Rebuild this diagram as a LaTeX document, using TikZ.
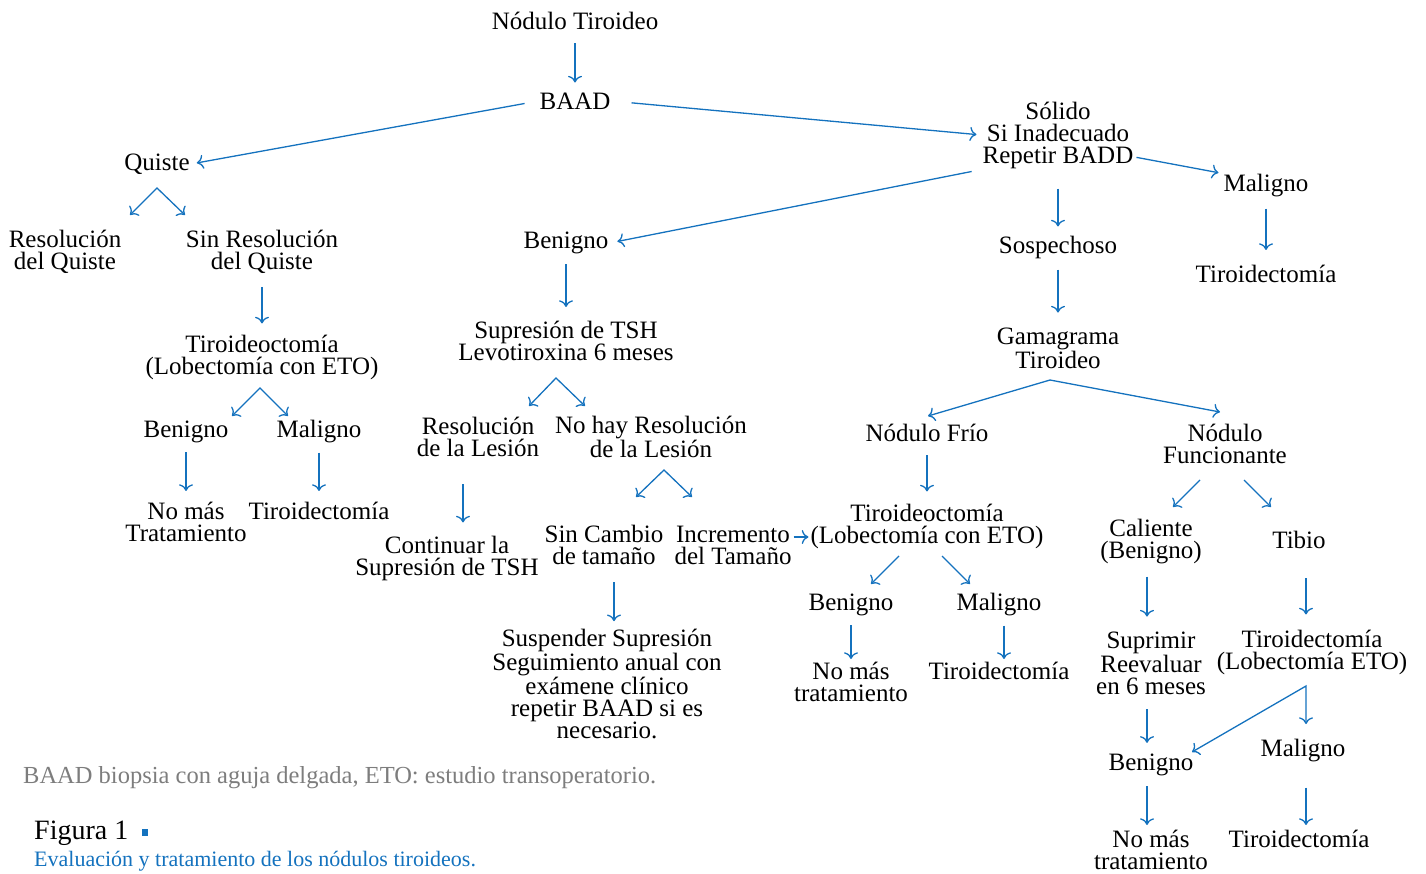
\documentclass[tikz,border=0pt]{standalone}
\usepackage{fontspec}
\setmainfont{Liberation Serif}
\usetikzlibrary{calc,arrows.meta}
\definecolor{azul}{RGB}{20,114,190}
\definecolor{gris}{RGB}{125,125,125}

\begin{document}
\begin{tikzpicture}[x=1pt,y=-1pt, >={To[scale=1.5]},
    every node/.style={align=center, inner sep=1pt, font=\fontsize{25}{22}\selectfont},
    flecha/.style={->, draw=azul, line width=1.3pt},
    rama/.style={<->, draw=azul, line width=1.3pt}]
    \useasboundingbox (0,0) rectangle (1426,873);

    % nodos
    \node (nodulo) at (575,21) {Nódulo Tiroideo};
    \node (baad) at (575,101) {BAAD};
    \node (solido) at (1058,135) {Sólido\\Si Inadecuado\\Repetir BADD};
    \node (quiste) at (157,164) {Quiste};
    \node (resquiste) at (65,252) {Resolución\\del Quiste};
    \node (sinres) at (262,252) {Sin Resolución\\del Quiste};
    \node (tiroq) at (262,357) {Tiroideoctomía\\(Lobectomía con ETO)};
    \node (benq) at (186,432) {Benigno};
    \node (malq) at (319,432) {Maligno};
    \node (nomasq) at (186,522) {No más\\Tratamiento};
    \node (tiroidq) at (319,511) {Tiroidectomía};
    \node (benb) at (566,243) {Benigno};
    \node (supresion) at (566,341) {Supresión de TSH\\Levotiroxina 6 meses};
    \node (reslesion) at (478,437) {Resolución\\de la Lesión};
    \node (nores) at (651,437) {No hay Resolución\\de la Lesión};
    \node (continuar) at (447,558) {Continuar la\\Supresión de TSH};
    \node (sincambio) at (604,545) {Sin Cambio\\de tamaño};
    \node (incremento) at (733,545) {Incremento\\del Tamaño};
    \node (suspender) at (607,684) {Suspender Supresión\\Seguimiento anual con\\exámene clínico\\repetir BAAD si es\\necesario.};
    \node (tiroi) at (927,526) {Tiroideoctomía\\(Lobectomía con ETO)};
    \node (beni) at (851,605) {Benigno};
    \node (mali) at (999,605) {Maligno};
    \node (nomasi) at (851,682) {No más\\tratamiento};
    \node (tiroidi) at (999,671) {Tiroidectomía};
    \node (malr) at (1266,186) {Maligno};
    \node (tiroidr) at (1266,274) {Tiroidectomía};
    \node (sospechoso) at (1058,247) {Sospechoso};
    \node (gamagrama) at (1058,348) {Gamagrama\\Tiroideo};
    \node (frio) at (927,433) {Nódulo Frío};
    \node (funcionante) at (1225,444) {Nódulo\\Funcionante};
    \node (caliente) at (1151,542) {Caliente\\(Benigno)};
    \node (tibio) at (1299,540) {Tibio};
    \node (suprimir) at (1151,663) {Suprimir\\Reevaluar\\en 6 meses};
    \node (tirof) at (1312,652) {Tiroidectomía\\(Lobectomía ETO)};
    \node (benf) at (1151,765) {Benigno};
    \node (malf) at (1303,751) {Maligno};
    \node (nomasf) at (1151,850) {No más\\tratamiento};
    \node (tiroidf) at (1299,839) {Tiroidectomía};

    % pie de figura
    \node[anchor=west, text=gris, font=\fontsize{24.5}{24}\selectfont] (nota) at (22,778) {BAAD biopsia con aguja delgada, ETO: estudio transoperatorio.};
    \node[anchor=west, font=\fontsize{28}{28}\selectfont] (figura) at (33,833) {Figura 1};
    \fill[azul] (142,829) rectangle (148,836);
    \node[anchor=west, text=azul, font=\fontsize{22}{22}\selectfont] (leyenda) at (33,861) {Evaluación y tratamiento de los nódulos tiroideos.};

    % lineas largas
    \draw[flecha, shorten <=14pt, shorten >=6pt] (baad.west) -- (quiste.east);
    \draw[flecha, shorten <=20pt, shorten >=5pt] (baad.east) -- (solido.west);
    \draw[flecha, shorten <=10pt, shorten >=8pt] (solido.south west) -- (benb.east);
    \draw[flecha, shorten <=2pt, shorten >=4pt] ([yshift=-22pt]solido.east) -- (malr.north west);
    \draw[flecha, shorten <=1pt, shorten >=1pt] ([yshift=8pt]incremento.east) -- ([yshift=8pt]incremento.east -| tiroi.west);

    % flechas verticales
    \draw[flecha, shorten <=12pt, shorten >=9pt] (nodulo) -- (baad);
    \draw[flecha, shorten <=19pt, shorten >=8pt] (solido.south) -- (solido.south |- sospechoso.north);
    \draw[flecha, shorten <=10pt, shorten >=14pt] (sospechoso) -- (gamagrama);
    \draw[flecha, shorten <=10pt, shorten >=14pt] (malr) -- (tiroidr);
    \draw[flecha, shorten <=12pt, shorten >=10pt] (sinres) -- (tiroq);
    \draw[flecha, shorten <=8pt, shorten >=10pt] (benq) -- (nomasq);
    \draw[flecha, shorten <=8pt, shorten >=10pt] (malq) -- (tiroidq);
    \draw[flecha, shorten <=9pt, shorten >=13pt] (benb.south) -- (benb.south |- supresion.north);
    \draw[flecha, shorten <=26pt, shorten >=12pt] ([xshift=-15pt]reslesion.south) -- ([xshift=-15pt]reslesion.south |- continuar.north);
    \draw[flecha, shorten <=16pt, shorten >=7pt] ([xshift=10pt]sincambio.south) -- ([xshift=10pt]sincambio.south |- suspender.north);
    \draw[flecha, shorten <=8pt, shorten >=2pt] (beni.south) -- (beni.south |- nomasi.north);
    \draw[flecha, shorten <=8pt, shorten >=2pt] ([xshift=5pt]mali.south) -- ([xshift=5pt]mali.south |- tiroidi.north);
    \draw[flecha, shorten <=12pt, shorten >=11pt] (frio) -- (tiroi);
    \draw[flecha, shorten <=11pt, shorten >=14pt] ([xshift=-4pt]caliente.south) -- ([xshift=-4pt]caliente.south |- suprimir.north);
    \draw[flecha, shorten <=28pt, shorten >=14pt] ([xshift=7pt]tibio.south) -- ([xshift=7pt]tibio.south |- tirof.north);
    \draw[flecha, shorten <=14pt, shorten >=10pt] ([xshift=-4pt]suprimir.south) -- ([xshift=-4pt]suprimir.south |- benf.north);
    \draw[flecha, shorten <=9pt, shorten >=4pt] ([xshift=-4pt]benf.south) -- ([xshift=-4pt]benf.south |- nomasf.north);
    \draw[flecha, shorten <=24pt, shorten >=4pt] ([xshift=3pt]malf.south) -- ([xshift=3pt]malf.south |- tiroidf.north);

    % ramas
    \coordinate (q-v) at (157,188);
    \draw[rama] (130,215) -- (q-v) -- (185,215);
    \coordinate (tq-v) at (260,388);
    \draw[rama] (232,416) -- (tq-v) -- (288,416);
    \coordinate (sp-v) at (556,378);
    \draw[rama] (529,406) -- (sp-v) -- (585,406);
    \coordinate (nr-v) at (664,470);
    \draw[rama] (636,497) -- (nr-v) -- (692,497);
    \coordinate (gm-v) at (1050,380);
    \draw[rama] (928,416) -- (gm-v) -- (1220,412);
    \coordinate (tf-v) at (1306,686);
    \draw[rama] (1192,752) -- (tf-v) -- (1306,724);
    \draw[flecha] (899,556) -- (871,584);
    \draw[flecha] (942,556) -- (970,584);
    \draw[flecha] (1200,480) -- (1173,507);
    \draw[flecha] (1244,480) -- (1271,507);
\end{tikzpicture}
\end{document}
